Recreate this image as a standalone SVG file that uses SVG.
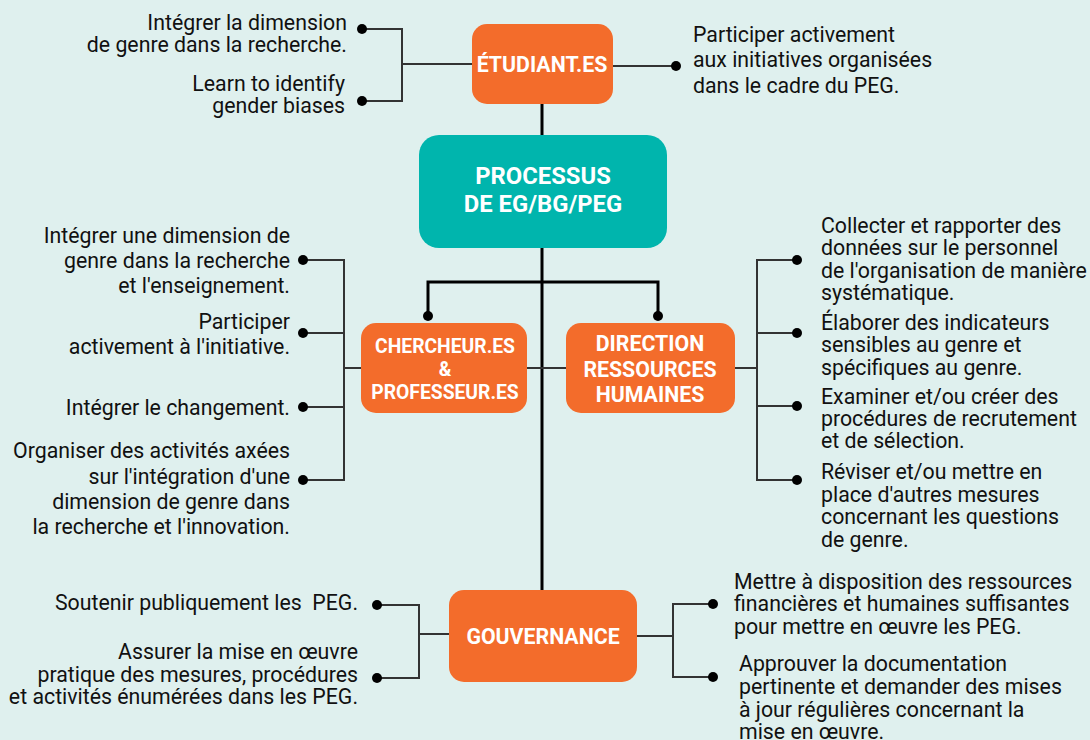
<svg xmlns="http://www.w3.org/2000/svg" width="1090" height="740" viewBox="0 0 1090 740">
<style>
.bg{fill:#dff0ee}
.or{fill:#f36c2b}
.tl{fill:#00b5ad}
.bt{font-family:Roboto,"Liberation Sans",sans-serif;font-weight:bold;fill:#fff;text-anchor:middle}
.t{font-family:Roboto,"Liberation Sans",sans-serif;font-size:21.3px;fill:#111}
.r{text-anchor:end}
.main{stroke:#000;stroke-width:3;fill:none}
.br{stroke:#333;stroke-width:2;fill:none}
.dot{fill:#000}
</style>
<rect class="bg" x="0" y="0" width="1090" height="740"/>
<g id="connectors">
<path class="main" d="M542 104V135M542 248V590M428 316V282H658V316"/>
<circle class="dot" cx="428" cy="316" r="5"/>
<circle class="dot" cx="658" cy="316" r="5"/>
<path class="br" d="M472 64H402M362 29H402V101H362"/>
<circle class="dot" cx="362" cy="29" r="5"/><circle class="dot" cx="362" cy="101" r="5"/>
<path class="br" d="M613 66H676"/>
<circle class="dot" cx="676" cy="66" r="5"/>
<path class="br" d="M361 368H344M303 260H344V480H303M303 333H344M303 407H344M527 368H566M735 368H757M797 260H757V480H797M757 333H797M757 406H797"/>
<circle class="dot" cx="303" cy="260" r="5"/><circle class="dot" cx="303" cy="333" r="5"/><circle class="dot" cx="303" cy="407" r="5"/><circle class="dot" cx="303" cy="480" r="5"/>
<circle class="dot" cx="797" cy="260" r="5"/><circle class="dot" cx="797" cy="333" r="5"/><circle class="dot" cx="797" cy="406" r="5"/><circle class="dot" cx="797" cy="480" r="5"/>
<path class="br" d="M449 634H419M377 605H419V678H377M637 636H673M713 604H673V677H713"/>
<circle class="dot" cx="377" cy="605" r="5"/><circle class="dot" cx="377" cy="678" r="5"/>
<circle class="dot" cx="713" cy="604" r="5"/><circle class="dot" cx="713" cy="677" r="5"/>
</g>
<g id="etudiant">
<rect class="or" x="472" y="24" width="141" height="80" rx="15"/>
<text class="bt" x="542" y="72" font-size="21.3">ÉTUDIANT.ES</text>
</g>
<g id="processus">
<rect class="tl" x="419" y="135" width="248" height="113" rx="20"/>
<text class="bt" x="543" y="184" font-size="23.8">PROCESSUS</text>
<text class="bt" x="543" y="212" font-size="23.8">DE EG/BG/PEG</text>
</g>
<g id="chercheur">
<rect class="or" x="361" y="323" width="166" height="90" rx="15"/>
<text class="bt" x="445" y="353" font-size="19.3">CHERCHEUR.ES</text>
<text class="bt" x="445" y="376" font-size="19.3">&amp;</text>
<text class="bt" x="445" y="399" font-size="19.3">PROFESSEUR.ES</text>
</g>
<g id="drh">
<rect class="or" x="566" y="323" width="169" height="90" rx="15"/>
<text class="bt" x="650" y="351" font-size="21.3">DIRECTION</text>
<text class="bt" x="650" y="377" font-size="21.3">RESSOURCES</text>
<text class="bt" x="650" y="402" font-size="21.3">HUMAINES</text>
</g>
<g id="gouvernance">
<rect class="or" x="449" y="590" width="188" height="92" rx="15"/>
<text class="bt" x="543" y="644" font-size="21.3">GOUVERNANCE</text>
</g>
<g id="texts-etudiant">
<text class="t r" x="347" y="30">Intégrer la dimension</text>
<text class="t r" x="347" y="52">de genre dans la recherche.</text>
<text class="t r" x="345" y="91">Learn to identify</text>
<text class="t r" x="345" y="113">gender biases</text>
<text class="t" x="693" y="42">Participer activement</text>
<text class="t" x="693" y="67">aux initiatives organisées</text>
<text class="t" x="693" y="93">dans le cadre du PEG.</text>
</g>
<g id="texts-chercheur">
<text class="t r" x="290" y="243">Intégrer une dimension de</text>
<text class="t r" x="290" y="268">genre dans la recherche</text>
<text class="t r" x="290" y="293">et l'enseignement.</text>
<text class="t r" x="290" y="329">Participer</text>
<text class="t r" x="290" y="354">activement à l'initiative.</text>
<text class="t r" x="290" y="415">Intégrer le changement.</text>
<text class="t r" x="290" y="458">Organiser des activités axées</text>
<text class="t r" x="290" y="484">sur l'intégration d'une</text>
<text class="t r" x="290" y="509">dimension de genre dans</text>
<text class="t r" x="290" y="534">la recherche et l'innovation.</text>
</g>
<g id="texts-drh">
<text class="t" x="821" y="233">Collecter et rapporter des</text>
<text class="t" x="821" y="255">données sur le personnel</text>
<text class="t" x="821" y="278">de l'organisation de manière</text>
<text class="t" x="821" y="300">systématique.</text>
<text class="t" x="821" y="330">Élaborer des indicateurs</text>
<text class="t" x="821" y="352">sensibles au genre et</text>
<text class="t" x="821" y="375">spécifiques au genre.</text>
<text class="t" x="821" y="404">Examiner et/ou créer des</text>
<text class="t" x="821" y="426">procédures de recrutement</text>
<text class="t" x="821" y="448">et de sélection.</text>
<text class="t" x="821" y="479">Réviser et/ou mettre en</text>
<text class="t" x="821" y="502">place d'autres mesures</text>
<text class="t" x="821" y="524">concernant les questions</text>
<text class="t" x="821" y="547">de genre.</text>
</g>
<g id="texts-gouvernance">
<text class="t r" x="358" y="610" xml:space="preserve">Soutenir publiquement les  PEG.</text>
<text class="t r" x="358" y="659">Assurer la mise en œuvre</text>
<text class="t r" x="358" y="682">pratique des mesures, procédures</text>
<text class="t r" x="358" y="704">et activités énumérées dans les PEG.</text>
<text class="t" x="734" y="589">Mettre à disposition des ressources</text>
<text class="t" x="734" y="611">financières et humaines suffisantes</text>
<text class="t" x="734" y="634">pour mettre en œuvre les PEG.</text>
<text class="t" x="739" y="671">Approuver la documentation</text>
<text class="t" x="739" y="694">pertinente et demander des mises</text>
<text class="t" x="739" y="717">à jour régulières concernant la</text>
<text class="t" x="739" y="739">mise en œuvre.</text>
</g>
</svg>
